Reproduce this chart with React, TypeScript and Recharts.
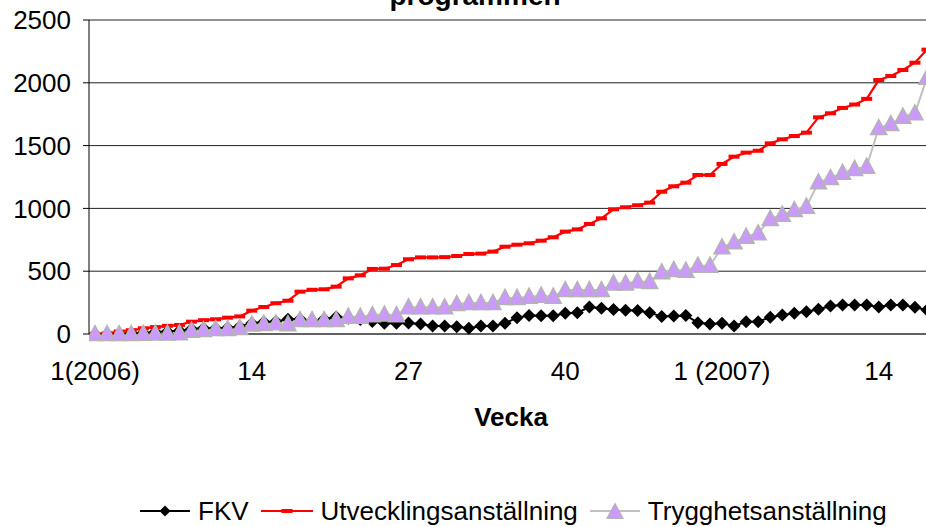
import React from 'react';
import { LineChart, Line, XAxis, YAxis, CartesianGrid, Legend } from 'recharts';

const weekLabels = [
  '1(2006)', '2', '3', '4', '5', '6', '7', '8', '9', '10',
  '11', '12', '13', '14', '15', '16', '17', '18', '19', '20',
  '21', '22', '23', '24', '25', '26', '27', '28', '29', '30',
  '31', '32', '33', '34', '35', '36', '37', '38', '39', '40',
  '41', '42', '43', '44', '45', '46', '47', '48', '49', '50',
  '51', '52', '1 (2007)', '2', '3', '4', '5', '6', '7', '8',
  '9', '10', '11', '12', '13', '14', '15', '16', '17', '18',
];

const fkv = [
  0, 0, 2, 5, 8, 15, 20, 25, 40, 45,
  45, 50, 60, 85, 95, 100, 117, 120, 105, 120,
  135, 125, 115, 100, 85, 85, 88, 80, 64, 64,
  58, 45, 64, 64, 85, 130, 148, 145, 145, 165,
  170, 215, 205, 195, 190, 187, 170, 140, 143, 148,
  90, 80, 85, 64, 98, 98, 133, 151, 165, 178,
  197, 223, 231, 231, 231, 215, 231, 231, 212, 191,
];

const utveckling = [
  0, 5, 20, 30, 45, 55, 65, 72, 98, 110,
  117, 130, 140, 186, 215, 245, 265, 337, 352, 356,
  377, 443, 467, 518, 520, 549, 595, 610, 610, 612,
  621, 637, 640, 656, 695, 711, 722, 743, 770, 815,
  833, 876, 921, 993, 1009, 1025, 1046, 1133, 1176, 1205,
  1266, 1266, 1354, 1412, 1444, 1459, 1518, 1550, 1576, 1603,
  1725, 1757, 1800, 1827, 1872, 2022, 2054, 2102, 2160, 2264,
];

const trygghet = [
  0, 0, 0, 0, 2, 3, 4, 5, 26, 32,
  40, 40, 48, 75, 80, 85, 78, 111, 111, 111,
  111, 138, 138, 150, 155, 150, 212, 212, 212, 212,
  239, 247, 247, 247, 287, 287, 297, 305, 297, 350,
  350, 350, 350, 403, 403, 419, 415, 491, 510, 504,
  544, 544, 690, 730, 775, 802, 916, 950, 987, 1014,
  1208, 1242, 1283, 1314, 1332, 1640, 1672, 1730, 1757, 2040,
];

const seriesNames = ['FKV', 'Utvecklingsanställning', 'Trygghetsanställning'];
const yTicks = [0, 500, 1000, 1500, 2000, 2500];
const labelTicks = [1, 14, 27, 40, 53, 66];

const data = weekLabels.map((w, i) => ({
  x: i + 1,
  week: w,
  fkv: fkv[i],
  utv: utveckling[i],
  tryg: trygghet[i],
}));
const boundaryTicks = weekLabels.map((_, i) => i + 0.5).concat([weekLabels.length + 0.5]);
const xDomain = [0.5, weekLabels.length + 0.5];

const FONT = '"Liberation Sans", Arial, sans-serif';
const RED = '#FF0000';
const GRAY = '#C0C0C0';
const LAVENDER = '#CC99FF';

const diamondPath = (cx: number, cy: number, s: number) =>
  `M${cx},${cy - s}L${cx + s},${cy}L${cx},${cy + s}L${cx - s},${cy}Z`;
const trianglePath = (cx: number, cy: number) =>
  `M${cx},${cy - 8.5}L${cx + 8},${cy + 6.5}L${cx - 8},${cy + 6.5}Z`;

const DiamondDot = (p: any) => {
  if (p.cx == null || p.cy == null) return <g key={p.index} />;
  return <path key={p.index} d={diamondPath(p.cx, p.cy, 6.5)} fill="#000" />;
};
const DashDot = (p: any) => {
  if (p.cx == null || p.cy == null) return <g key={p.index} />;
  return <rect key={p.index} x={p.cx - 5.5} y={p.cy - 2} width={11} height={4} fill={RED} />;
};
const TriangleDot = (p: any) => {
  if (p.cx == null || p.cy == null) return <g key={p.index} />;
  return (
    <path key={p.index} d={trianglePath(p.cx, p.cy)} fill={LAVENDER} stroke="#B4B4B4" strokeWidth={1.5} />
  );
};

const LegendIcon = ({ dataKey }: { dataKey: string }) => {
  if (dataKey === 'fkv') {
    return (
      <svg width={50} height={20}>
        <line x1={0} y1={10} x2={50} y2={10} stroke="#000" strokeWidth={2} />
        <path d={diamondPath(25, 10, 5.5)} fill="#000" />
      </svg>
    );
  }
  if (dataKey === 'utv') {
    return (
      <svg width={52} height={20}>
        <line x1={0} y1={10} x2={52} y2={10} stroke={RED} strokeWidth={2} />
        <rect x={20.5} y={8} width={11} height={4} fill={RED} />
      </svg>
    );
  }
  return (
    <svg width={50} height={20}>
      <line x1={0} y1={10} x2={50} y2={10} stroke={GRAY} strokeWidth={2} />
      <path d={trianglePath(25, 11)} fill={LAVENDER} stroke="#B4B4B4" strokeWidth={1.2} />
    </svg>
  );
};

const LegendContent = (props: any) => {
  const payload = [...(props.payload || [])].sort(
    (a: any, b: any) => seriesNames.indexOf(a.value) - seriesNames.indexOf(b.value)
  );
  return (
    <div style={{ display: 'flex', alignItems: 'center', whiteSpace: 'nowrap', fontSize: 26, lineHeight: 1, color: '#000', fontFamily: FONT }}>
      {payload.map((entry: any, idx: number) => (
        <div key={idx} style={{ display: 'flex', alignItems: 'center', marginRight: 12 }}>
          <LegendIcon dataKey={String(entry.dataKey)} />
          <span style={{ marginLeft: 8 }}>{entry.value}</span>
        </div>
      ))}
    </div>
  );
};

export default function App() {
  return (
    <div style={{ position: 'absolute', left: 0, top: 0, width: 926, height: 527, overflow: 'hidden', background: '#fff', fontFamily: FONT }}>
      <LineChart width={950} height={527} data={data} margin={{ top: 20, right: 17, bottom: 125, left: 0 }}>
        <CartesianGrid vertical={false} stroke="#222" strokeWidth={1} />
        <XAxis
          type="number"
          dataKey="x"
          domain={xDomain}
          ticks={boundaryTicks}
          interval={0}
          tick={false}
          tickSize={8}
          tickLine={{ stroke: '#333' }}
          axisLine={{ stroke: '#333' }}
          height={8}
          allowDataOverflow
        />
        <XAxis
          xAxisId="lbl"
          type="number"
          dataKey="x"
          domain={xDomain}
          ticks={labelTicks}
          interval={0}
          tickLine={false}
          axisLine={false}
          tickSize={0}
          tickMargin={20}
          height={60}
          allowDataOverflow
          tickFormatter={(v: number) => weekLabels[v - 1]}
          tick={{ fontSize: 26, fill: '#000' }}
          label={{ value: 'Vecka', position: 'bottom', offset: 6, fontSize: 26, fontWeight: 'bold', fill: '#000' }}
        />
        <YAxis
          domain={[0, 2500]}
          ticks={yTicks}
          interval={0}
          width={89}
          tickSize={6}
          tickMargin={12}
          tickLine={{ stroke: '#000' }}
          axisLine={{ stroke: '#000' }}
          tick={{ fontSize: 26, fill: '#000' }}
        />
        <Legend
          verticalAlign="middle"
          align="center"
          itemSorter={null as any}
          content={<LegendContent />}
          wrapperStyle={{ left: 140, top: 498, width: 'auto', height: 'auto' }}
        />
        <Line dataKey="fkv" name={seriesNames[0]} stroke="#000" strokeWidth={2} dot={DiamondDot} activeDot={false} isAnimationActive={false} />
        <Line dataKey="utv" name={seriesNames[1]} stroke={RED} strokeWidth={2.2} dot={DashDot} activeDot={false} isAnimationActive={false} />
        <Line dataKey="tryg" name={seriesNames[2]} stroke={GRAY} strokeWidth={2} dot={TriangleDot} activeDot={false} isAnimationActive={false} />
      </LineChart>
      <div style={{ position: 'absolute', left: 0, top: -18, width: 950, textAlign: 'center', fontSize: 28, fontWeight: 'bold', lineHeight: 1, color: '#000', fontFamily: FONT }}>
        programmen
      </div>
    </div>
  );
}
